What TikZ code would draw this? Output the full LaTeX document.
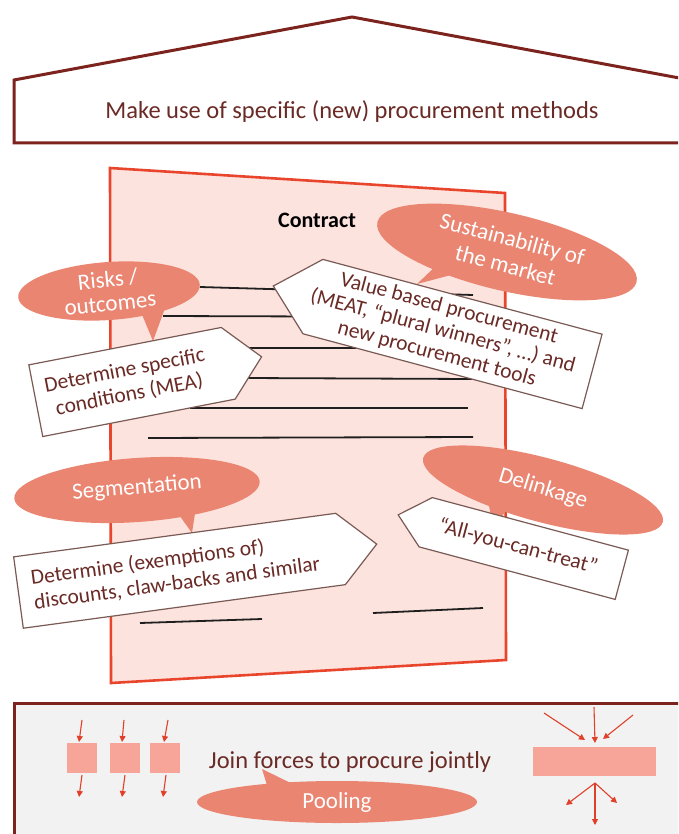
\documentclass[tikz,border=0pt]{standalone}
\usepackage{fontspec}
\setmainfont{Carlito}
\usetikzlibrary{shapes.geometric,calc,arrows.meta}

\definecolor{roofred}{HTML}{7D231E}
\definecolor{pageedge}{HTML}{E8452C}
\definecolor{pagefill}{HTML}{FDE3DD}
\definecolor{bubblefill}{HTML}{EA8572}
\definecolor{cardedge}{HTML}{7A5A55}
\definecolor{cardink}{HTML}{6A2A25}
\definecolor{blockfill}{HTML}{F6A598}
\definecolor{flowred}{HTML}{E0402A}
\definecolor{basefill}{HTML}{F2F2F2}

\tikzset{
  roof/.style={draw=roofred, line width=3pt, line join=miter},
  sheet/.style={draw=pageedge, fill=pagefill, line width=2.6pt, line join=miter},
  rule/.style={draw=black!88, line width=1.8pt},
  bubble/.style={ellipse, fill=bubblefill, inner sep=0pt},
  tail/.style={fill=bubblefill},
  bubbletext/.style={text=white, font=\fontsize{23}{27}\selectfont, align=center, inner sep=0pt},
  card/.style={draw=cardedge, fill=white, line width=1.2pt, line join=miter},
  cardtext/.style={text=cardink, font=\fontsize{21.5}{24.5}\selectfont, inner sep=0pt},
  headtext/.style={text=cardink, font=\fontsize{24.5}{28}\selectfont},
  block/.style={fill=blockfill},
  flow/.style={draw=flowred, line width=1.1pt, -{Triangle[length=6pt,width=6pt]}},
}

\begin{document}
\begin{tikzpicture}[x=1pt,y=-1pt]
\useasboundingbox (0,0) rectangle (678,834);
\clip (0,0) rectangle (678,834);

% roof with the heading
\draw[roof, fill=white] (14,143) -- (14,80) -- (352,17) -- (690,80) -- (690,143) -- cycle;
\node[headtext] (heading) at (352,112) {Make use of specific (new) procurement methods};

% the contract sheet
\draw[sheet] (110,168) -- (505,193) -- (506,660) -- (111,683) -- cycle;
\node[font=\bfseries\fontsize{22}{24}\selectfont] (contract) at (317,220) {Contract};

\coordinate (l1a) at (200,287); \coordinate (l1b) at (473,295);
\coordinate (l2a) at (163,316); \coordinate (l2b) at (473,317);
\coordinate (l3a) at (245,348); \coordinate (l3b) at (473,348);
\coordinate (l4a) at (245,378); \coordinate (l4b) at (473,379);
\coordinate (l5a) at (190,408); \coordinate (l5b) at (468,408);
\coordinate (l6a) at (148,438); \coordinate (l6b) at (473,437);
\coordinate (l7a) at (140,623); \coordinate (l7b) at (262,619);
\coordinate (l8a) at (373,613); \coordinate (l8b) at (483,608);
\foreach \n in {1,...,8} \draw[rule] (l\n a) -- (l\n b);

% speech bubbles
\node[bubble, minimum width=182pt, minimum height=58pt, rotate=4] (risks) at (109,291) {};
\fill[tail] (138,305) -- (168,300) -- (153,341) -- cycle;
\node[bubbletext, font=\fontsize{23}{24}\selectfont, rotate=6] (riskstext) at (109,291) {Risks /\\outcomes};

\node[bubble, minimum width=266pt, minimum height=78pt, rotate=-13] (sustain) at (507,252) {};
\fill[tail] (440,262) -- (470,270) -- (417,284) -- cycle;
\node[bubbletext, rotate=-15] (sustaintext) at (509,252) {Sustainability of\\the market};

\node[bubble, minimum width=246pt, minimum height=64pt, rotate=4] (segment) at (137,490) {};
\fill[tail] (172,505) -- (197,500) -- (192,533) -- cycle;
\node[bubbletext, rotate=5] (segmenttext) at (137,488) {Segmentation};

\node[bubble, minimum width=248pt, minimum height=64pt, rotate=-15] (delink) at (543,490) {};
\fill[tail] (484,482) -- (520,486) -- (494,530) -- cycle;
\node[bubbletext, rotate=-17] (delinktext) at (543,489) {Delinkage};

% arrow-shaped cards
\begin{scope}[shift={(452.5,334)}, rotate=-15]
  \path[card] (-185.5,0) -- (-144.5,-38.5) -- (144.5,-38.5) -- (144.5,38.5) -- (-144.5,38.5) -- cycle;
  \node[cardtext, font=\fontsize{21.5}{23.5}\selectfont, transform shape, align=center] (valuetext) at (-10,0)
    {Value based procurement\\(MEAT, “plural winners”, …) and\\new procurement tools};
\end{scope}

\begin{scope}[shift={(132,382)}, rotate=11]
  \path[card] (-98,-36.5) -- (98,-36.5) -- (132,0) -- (98,36.5) -- (-98,36.5) -- cycle;
  \node[cardtext, transform shape, align=center] (conditions) at (-5,0)
    {Determine specific\\conditions (MEA)};
\end{scope}

\begin{scope}[shift={(179.5,570.75)}, rotate=7.7]
  \path[card] (-162.5,-36) -- (162.5,-36) -- (199,0) -- (162.5,36) -- (-162.5,36) -- cycle;
  \node[cardtext, transform shape, align=left] (discounts) at (-4,0)
    {Determine (exemptions of)\\discounts, claw-backs and similar};
\end{scope}

\begin{scope}[shift={(523.75,548.5)}, rotate=-15]
  \path[card] (-130,0) -- (-101.5,-25.5) -- (101.5,-25.5) -- (101.5,25.5) -- (-101.5,25.5) -- cycle;
  \node[cardtext, transform shape] (allyou) at (-6,0) {“All-you-can-treat”};
\end{scope}

% foundation: pooling
\draw[roof, fill=basefill] (14,850) -- (14,703) -- (700,703) -- (700,850);

\node[bubble, minimum width=280pt, minimum height=42pt] (pool) at (337,802) {};
\fill[tail] (270,795) -- (305,790) -- (262,769) -- cycle;
\node[bubbletext] (pooltext) at (337,802) {Pooling};
\node[headtext] (joint) at (350,762) {Join forces to procure jointly};

% separate buyers
\node[block, minimum size=30pt, inner sep=0pt] (b1) at (82,758) {};
\node[block, minimum size=30pt, inner sep=0pt] (b2) at (125,758) {};
\node[block, minimum size=30pt, inner sep=0pt] (b3) at (165,758) {};
\coordinate (b1in) at (82,720);  \coordinate (b1out) at (79,797);
\coordinate (b2in) at (124,720); \coordinate (b2out) at (122,797);
\coordinate (b3in) at (168,720); \coordinate (b3out) at (163,797);
\draw[flow] (b1in) -- (79,742);
\draw[flow] (82,775) -- (b1out);
\draw[flow] (b2in) -- (122,742);
\draw[flow] (125,775) -- (b2out);
\draw[flow] (b3in) -- (164,742);
\draw[flow] (166,775) -- (b3out);

% joint buyer
\node[block, minimum width=123pt, minimum height=29pt, inner sep=0pt] (joint buyer) at (594.5,761.5) {};
\coordinate (j1) at (544,713); \coordinate (j2) at (594,707); \coordinate (j3) at (633,715);
\coordinate (o0) at (595,783);
\coordinate (o1) at (566,805); \coordinate (o2) at (595,825); \coordinate (o3) at (617,803);
\draw[flow] (j1) -- (585,740);
\draw[flow] (j2) -- (595,743);
\draw[flow] (j3) -- (603,739);
\draw[flow] (o0) -- (o1);
\draw[flow] (o0) -- (o2);
\draw[flow] (o0) -- (o3);
\end{tikzpicture}
\end{document}
